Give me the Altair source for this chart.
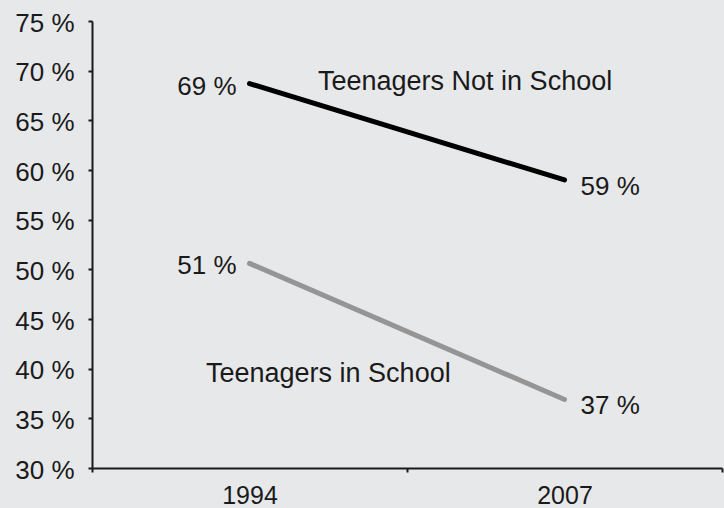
import altair as alt
import pandas as pd

years = ["1994", "2007"]
series = ["Teenagers Not in School", "Teenagers in School"]
not_in_school = [68.7, 59.0]
in_school = [50.6, 36.9]
y_ticks = [30, 35, 40, 45, 50, 55, 60, 65, 70, 75]

rows = []
for s, vals in zip(series, [not_in_school, in_school]):
    for yr, v in zip(years, vals):
        rows.append({"series": s, "year": yr, "value": v, "label": f"{round(v)} %"})
df = pd.DataFrame(rows)

FONT = "Liberation Sans"
TXT = "#1a1a1a"

x_enc = alt.X(
    "year:N",
    sort=years,
    title=None,
    scale=alt.Scale(paddingInner=0, paddingOuter=0),
    axis=alt.Axis(
        labelAngle=0, labelFontSize=25, labelFont=FONT, labelColor=TXT,
        tickBand="extent", tickSize=4, tickWidth=2, tickColor="#1a1a1a",
        domainColor="#1a1a1a", domainWidth=2, labelPadding=11,
    ),
)
y_enc = alt.Y(
    "value:Q",
    title=None,
    scale=alt.Scale(domain=[30, 75], nice=False, zero=False),
    axis=alt.Axis(
        values=y_ticks, labelExpr="datum.value + ' %'", labelFontSize=26,
        labelFont=FONT, labelColor=TXT, tickSize=4, tickWidth=2,
        tickColor="#1a1a1a", domainColor="#1a1a1a", domainWidth=2,
        labelPadding=14, labelOffset=2, grid=False,
    ),
)

base = alt.Chart(df)

lines = base.mark_line(strokeWidth=5, strokeCap="round").encode(
    x=x_enc, y=y_enc,
    color=alt.Color("series:N", scale=alt.Scale(domain=series, range=["#000000", "#959595"]), legend=None),
    detail="series:N",
)

left_labels = base.transform_filter(alt.datum.year == "1994").mark_text(
    align="right", baseline="middle", dx=-13, dy=3, fontSize=26, font=FONT, color=TXT
).encode(x=alt.X("year:N", sort=years), y="value:Q", text="label:N")

right_labels = base.transform_filter(alt.datum.year == "2007").mark_text(
    align="left", baseline="middle", dx=16, dy=7, fontSize=26, font=FONT, color=TXT
).encode(x=alt.X("year:N", sort=years), y="value:Q", text="label:N")

ann_df = pd.DataFrame({"name": series})
ann1 = alt.Chart(ann_df).transform_filter(alt.datum.name == series[0]).mark_text(
    align="left", baseline="middle", fontSize=27, font=FONT, color=TXT
).encode(x=alt.value(226), y=alt.value(61), text="name:N")
ann2 = alt.Chart(ann_df).transform_filter(alt.datum.name == series[1]).mark_text(
    align="left", baseline="middle", fontSize=27, font=FONT, color=TXT
).encode(x=alt.value(114), y=alt.value(353), text="name:N")

chart = alt.layer(lines, left_labels, right_labels, ann1, ann2).properties(
    width=630, height=447,
    autosize=alt.AutoSizeParams(type="none"),
    padding={"left": 92, "top": 21, "right": 2, "bottom": 40},
    background="#e7e8ea",
).configure_view(stroke=None)

chart.save("out.html", embed_options={"renderer": "svg", "actions": False})
